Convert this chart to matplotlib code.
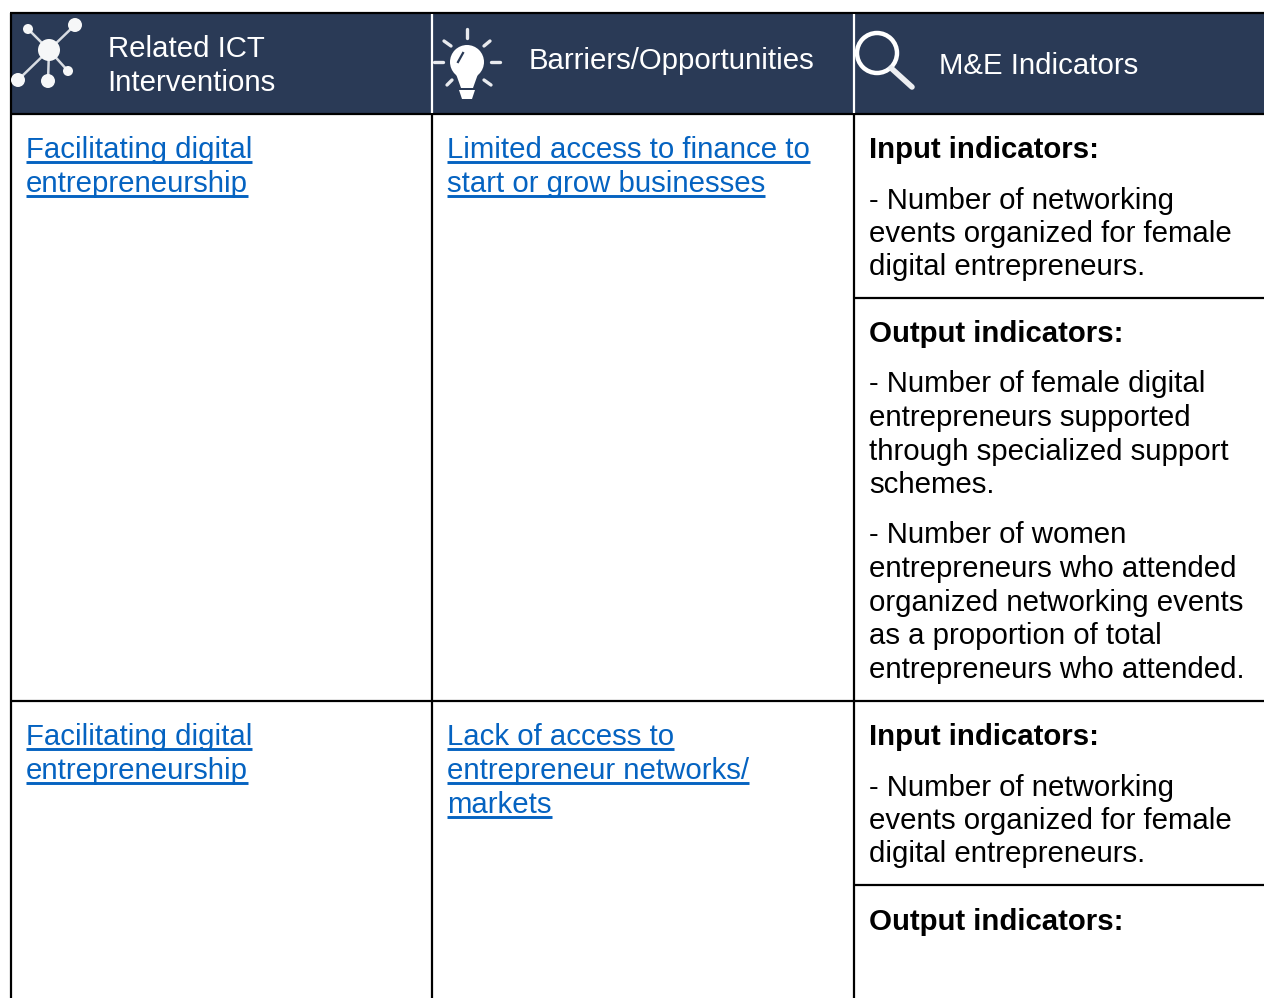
import matplotlib
matplotlib.use("Agg")
import matplotlib.pyplot as plt
from matplotlib.patches import Rectangle, Circle, Polygon

plt.rcParams['font.family'] = ['Liberation Sans', 'DejaVu Sans']

W, H = 1264, 998
NAVY = '#2a3a56'
LINK = '#0563c1'
FS = 21.15

headers = [
    (108, 57, "Related ICT"),
    (107.5, 91, "Interventions"),
    (529, 69, "Barriers/Opportunities"),
    (939, 74, "M&E Indicators"),
]

# blue links, x and baseline
links = [
    (25.5, 158, "Facilitating digital"),
    (25.5, 192, "entrepreneurship"),
    (447, 158, "Limited access to finance to"),
    (447, 192, "start or grow businesses"),
    (25.5, 745, "Facilitating digital"),
    (25.5, 779, "entrepreneurship"),
    (447, 745, "Lack of access to"),
    (447, 779, "entrepreneur networks/"),
    (447, 813, "markets"),
]

bold_text = [
    (158, "Input indicators:"),
    (342, "Output indicators:"),
    (745, "Input indicators:"),
    (930, "Output indicators:"),
]

plain_text = [
    (209, "- Number of networking"),
    (242, "events organized for female"),
    (275, "digital entrepreneurs."),
    (392, "- Number of female digital"),
    (426, "entrepreneurs supported"),
    (460, "through specialized support"),
    (493, "schemes."),
    (543, "- Number of women"),
    (577, "entrepreneurs who attended"),
    (611, "organized networking events"),
    (644, "as a proportion of total"),
    (678, "entrepreneurs who attended."),
    (796, "- Number of networking"),
    (829, "events organized for female"),
    (862, "digital entrepreneurs."),
]

col_x = [11, 432, 854]
row_y = [114, 701]
sub_y = [298, 885]

fig = plt.figure(figsize=(W / 100, H / 100), dpi=100)
ax = fig.add_axes([0, 0, 1, 1])
ax.set_xlim(0, W)
ax.set_ylim(H, 0)
ax.axis('off')

# header band
ax.add_patch(Rectangle((11, 13), W - 11, 101, fc=NAVY, ec='none'))

# grid
ax.plot([10, W], [13, 13], color='k', lw=1.6, solid_capstyle='butt')
for y in row_y:
    ax.plot([10, W], [y, y], color='k', lw=1.6, solid_capstyle='butt')
for y in sub_y:
    ax.plot([854, W], [y, y], color='k', lw=1.6, solid_capstyle='butt')
for x in col_x:
    ax.plot([x, x], [114, H], color='k', lw=1.6, solid_capstyle='butt')
ax.plot([11, 11], [13, 114], color='k', lw=1.6, solid_capstyle='butt')
for x in col_x[1:]:
    ax.plot([x, x], [14, 113], color='w', lw=1.6, solid_capstyle='butt')

for x, y, s in headers:
    ax.text(x, y, s, color='w', fontsize=FS, va='baseline', ha='left')

fig.canvas.draw()
rend = fig.canvas.get_renderer()
for x, y, s in links:
    t = ax.text(x, y, s, color=LINK, fontsize=FS, va='baseline', ha='left')
    w = t.get_window_extent(rend).width
    ax.plot([x, x + w], [y + 4, y + 4], color=LINK, lw=2.1, solid_capstyle='butt')

for y, s in bold_text:
    ax.text(869, y, s, color='k', fontsize=FS, fontweight='bold', va='baseline', ha='left')
for y, s in plain_text:
    ax.text(869, y, s, color='k', fontsize=FS, va='baseline', ha='left')

# network icon
hub = (49, 50)
nodes = [(28, 29, 5), (75, 25, 7), (68, 71, 5), (48, 81, 7), (18, 80, 7)]
for nx, ny, r in nodes:
    ax.plot([hub[0], nx], [hub[1], ny], color='#d8dce2', lw=1.8, zorder=3)
    ax.add_patch(Circle((nx, ny), r, fc='#f6f7f8', ec='none', zorder=4))
ax.add_patch(Circle(hub, 11, fc='#f6f7f8', ec='none', zorder=4))

# light bulb icon
ax.add_patch(Circle((467, 62), 17, fc='w', ec='none', zorder=3))
ax.add_patch(Polygon([(456, 74), (478, 74), (473, 88), (461, 88)], fc='w', ec='none', zorder=3))
ax.add_patch(Polygon([(459, 90), (475, 90), (472, 99), (462, 99)], fc='w', ec='none', zorder=3))
rays = [((467, 29), (467, 38)), ((444, 41), (451, 46)), ((490, 41), (484, 46)),
        ((434, 62), (443, 62)), ((491, 62), (500, 62)), ((447, 85), (452, 80)),
        ((491, 85), (484, 80))]
for a, b in rays:
    ax.plot([a[0], b[0]], [a[1], b[1]], color='#e8eaee', lw=2.4, solid_capstyle='round')
ax.plot([458, 463], [62, 53], color=NAVY, lw=1.6, zorder=4)

# magnifier icon
ax.add_patch(Circle((877, 53), 20, fc='none', ec='w', lw=3.2, zorder=3))
ax.plot([891, 912], [68, 87], color='#eceef1', lw=4, solid_capstyle='round', zorder=3)

fig.savefig('out.png', dpi=100)
